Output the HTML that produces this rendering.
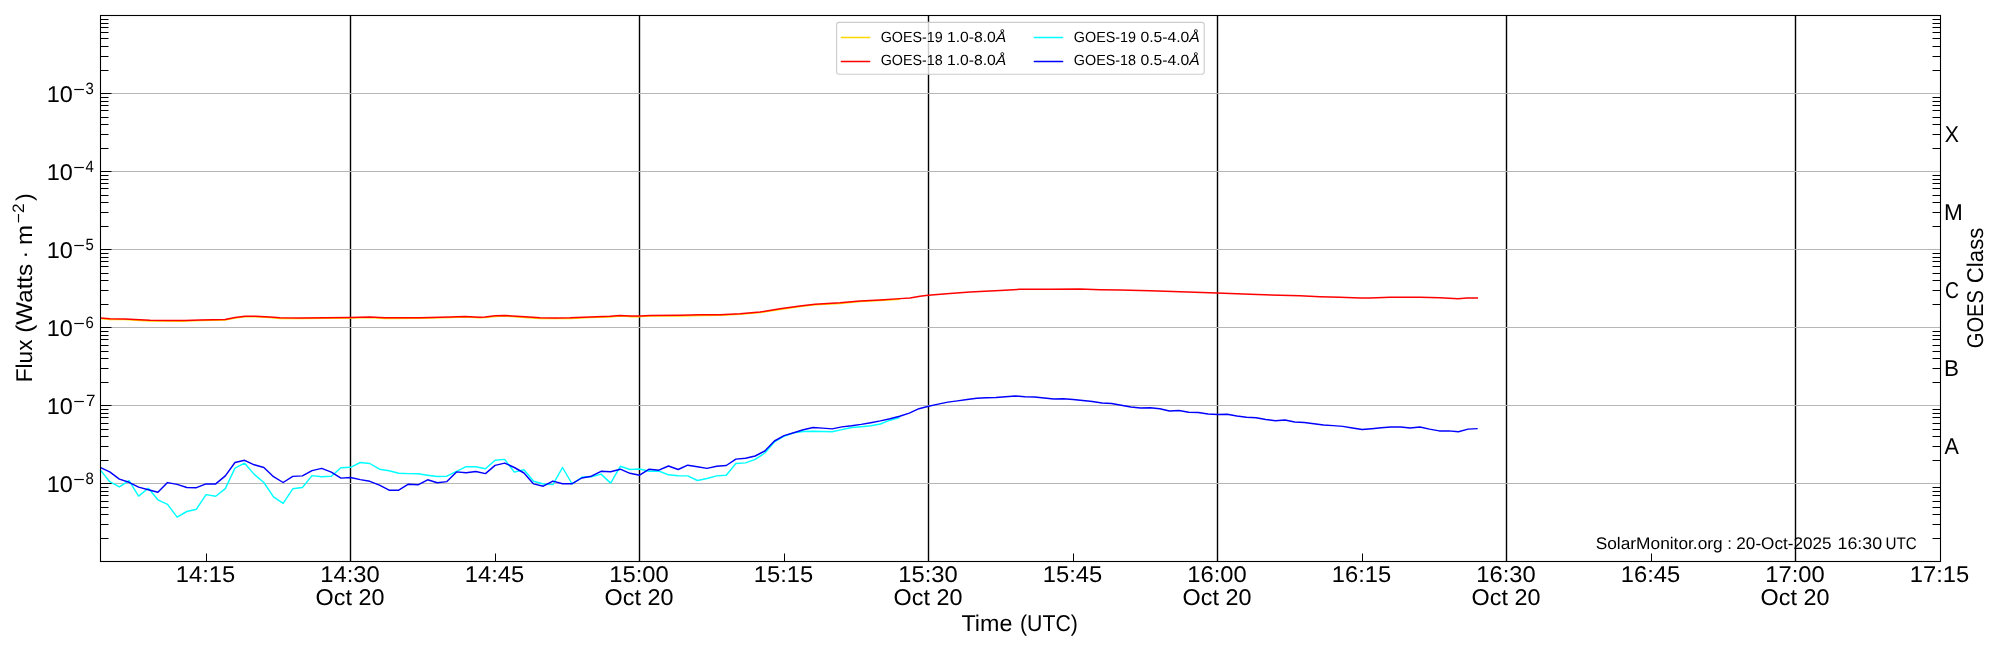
<!DOCTYPE html><html><head><meta charset="utf-8"><style>html,body{margin:0;padding:0;background:#fff;width:2000px;height:650px;overflow:hidden}svg{display:block;will-change:transform}text{font-family:"Liberation Sans",sans-serif;fill:#000;text-rendering:geometricPrecision}</style></head><body>
<svg width="2000" height="650" viewBox="0 0 2000 650">
<rect id="bg" width="2000" height="650" fill="#fff"/>
<line x1="350.50" y1="15.50" x2="350.50" y2="561.50" stroke="#000" stroke-width="1.4"/>
<line x1="639.50" y1="15.50" x2="639.50" y2="561.50" stroke="#000" stroke-width="1.4"/>
<line x1="928.50" y1="15.50" x2="928.50" y2="561.50" stroke="#000" stroke-width="1.4"/>
<line x1="1217.50" y1="15.50" x2="1217.50" y2="561.50" stroke="#000" stroke-width="1.4"/>
<line x1="1506.50" y1="15.50" x2="1506.50" y2="561.50" stroke="#000" stroke-width="1.4"/>
<line x1="1795.50" y1="15.50" x2="1795.50" y2="561.50" stroke="#000" stroke-width="1.4"/>
<line x1="100.50" y1="93.50" x2="1940.50" y2="93.50" stroke="#b6b6b6" stroke-width="1.05"/>
<line x1="100.50" y1="171.50" x2="1940.50" y2="171.50" stroke="#b6b6b6" stroke-width="1.05"/>
<line x1="100.50" y1="249.50" x2="1940.50" y2="249.50" stroke="#b6b6b6" stroke-width="1.05"/>
<line x1="100.50" y1="327.50" x2="1940.50" y2="327.50" stroke="#b6b6b6" stroke-width="1.05"/>
<line x1="100.50" y1="405.50" x2="1940.50" y2="405.50" stroke="#b6b6b6" stroke-width="1.05"/>
<line x1="100.50" y1="483.50" x2="1940.50" y2="483.50" stroke="#b6b6b6" stroke-width="1.05"/>
<polyline fill="none" stroke="#ffd700" stroke-width="1.45" stroke-linejoin="round" points="100.50,318.65 110.00,319.45 125.00,319.65 140.00,320.45 150.00,320.95 165.00,321.15 185.00,321.15 200.00,320.65 225.00,320.15 235.00,318.15 245.00,316.85 255.00,316.85 270.00,317.65 280.00,318.45 300.00,318.65 350.00,318.15 370.00,317.65 385.00,318.45 420.00,318.35 450.00,317.65 465.00,317.15 480.00,317.85 485.00,317.65 495.00,316.45 505.00,316.15 525.00,317.45 540.00,318.45 555.00,318.65 570.00,318.45 590.00,317.65 610.00,316.95 620.00,316.15 630.00,316.65 640.00,316.65 650.00,316.15 680.00,315.95 700.00,315.45 720.00,315.35 740.00,314.35 760.00,312.65 780.00,309.45 800.00,306.65 815.00,304.85 840.00,303.45 860.00,301.65 880.00,300.65 900.00,299.25"/>
<polyline fill="none" stroke="#ff0000" stroke-width="1.45" stroke-linejoin="round" points="100.50,318.00 110.00,318.80 125.00,319.00 140.00,319.80 150.00,320.30 165.00,320.50 185.00,320.50 200.00,320.00 225.00,319.50 235.00,317.50 245.00,316.20 255.00,316.20 270.00,317.00 280.00,317.80 300.00,318.00 350.00,317.50 370.00,317.00 385.00,317.80 420.00,317.70 450.00,317.00 465.00,316.50 480.00,317.20 485.00,317.00 495.00,315.80 505.00,315.50 525.00,316.80 540.00,317.80 555.00,318.00 570.00,317.80 590.00,317.00 610.00,316.30 620.00,315.50 630.00,316.00 640.00,316.00 650.00,315.50 680.00,315.30 700.00,314.80 720.00,314.70 740.00,313.70 760.00,312.00 780.00,308.80 800.00,306.00 815.00,304.20 840.00,302.80 860.00,301.00 880.00,300.00 900.00,298.60 910.00,298.00 920.00,296.30 928.00,295.30 950.00,293.50 970.00,292.00 1000.00,290.50 1020.00,289.30 1050.00,289.20 1080.00,289.00 1100.00,289.70 1120.00,290.00 1150.00,290.80 1180.00,291.80 1217.00,293.00 1250.00,294.30 1280.00,295.20 1300.00,295.80 1320.00,296.70 1340.00,297.20 1360.00,298.00 1370.00,298.00 1390.00,297.30 1420.00,297.30 1440.00,297.80 1458.00,298.80 1467.00,298.00 1478.00,298.00"/>
<polyline fill="none" stroke="#00ffff" stroke-width="1.45" stroke-linejoin="round" points="100.10,469.60 109.73,481.70 119.37,486.90 129.00,480.60 138.63,496.10 148.27,488.30 157.90,499.80 167.53,504.40 177.17,517.10 186.80,511.50 196.44,509.20 206.07,494.60 215.70,496.30 225.34,488.60 234.97,468.10 244.60,463.20 254.24,474.40 263.87,482.50 273.50,496.90 283.14,503.30 292.77,488.80 302.40,487.50 312.04,475.60 321.67,476.70 331.30,476.20 340.94,467.70 350.57,467.30 360.20,462.50 369.84,463.50 379.47,469.20 389.11,470.80 398.74,473.30 408.37,473.60 418.01,473.80 427.64,475.20 437.27,476.50 446.91,476.20 456.54,471.30 466.17,466.60 475.81,466.70 485.44,468.70 495.07,460.30 504.71,459.40 514.34,472.10 523.97,469.80 533.61,481.30 543.24,484.00 552.87,484.60 562.51,467.50 572.14,484.00 581.77,477.30 591.41,476.70 601.04,474.10 610.68,483.10 620.31,466.30 629.94,469.50 639.58,469.00 649.21,471.30 658.84,471.00 668.48,474.80 678.11,475.80 687.74,475.90 697.38,480.50 707.01,478.50 716.64,475.90 726.28,475.20 735.91,463.50 745.54,462.90 755.18,459.40 764.81,453.00 774.45,442.00 784.08,436.20 793.71,432.90 803.35,431.50 812.98,431.30 822.61,431.50 832.25,431.80 841.88,429.60 851.51,427.50 861.15,426.70 870.78,425.80 880.41,424.00 890.05,420.20 899.68,417.50"/>
<polyline fill="none" stroke="#0000ff" stroke-width="1.45" stroke-linejoin="round" points="100.10,467.30 109.73,471.90 119.37,479.10 129.00,482.30 138.63,487.10 148.27,489.80 157.90,492.30 167.53,482.60 177.17,484.40 186.80,487.50 196.44,487.70 206.07,483.90 215.70,483.90 225.34,475.90 234.97,462.50 244.60,460.30 254.24,464.80 263.87,467.50 273.50,476.70 283.14,482.50 292.77,476.40 302.40,475.90 312.04,470.60 321.67,468.40 331.30,472.10 340.94,478.10 350.57,477.50 360.20,479.60 369.84,481.30 379.47,485.20 389.11,490.20 398.74,490.20 408.37,484.20 418.01,484.80 427.64,479.80 437.27,482.80 446.91,481.60 456.54,471.90 466.17,472.70 475.81,471.50 485.44,473.60 495.07,465.40 504.71,463.10 514.34,467.50 523.97,473.00 533.61,483.90 543.24,486.20 552.87,481.10 562.51,483.70 572.14,483.70 581.77,478.00 591.41,476.20 601.04,471.30 610.68,471.80 620.31,469.20 629.94,473.30 639.58,475.20 649.21,469.20 658.84,470.20 668.48,466.00 678.11,469.50 687.74,465.20 697.38,466.70 707.01,468.40 716.64,466.30 726.28,465.50 735.91,459.10 745.54,458.30 755.18,456.00 764.81,451.00 774.45,441.00 784.08,435.60 793.71,432.70 803.35,429.80 812.98,427.50 822.61,428.10 832.25,428.90 841.88,426.90 851.51,425.80 861.15,424.40 870.78,422.70 880.41,420.90 890.05,418.80 899.68,416.30 909.31,413.10 918.95,408.70 928.58,406.20 938.21,404.10 947.85,402.10 957.48,400.90 967.12,399.50 976.75,398.30 986.38,397.80 996.02,397.50 1005.65,396.70 1015.28,396.00 1024.92,396.80 1034.55,397.00 1044.18,398.00 1053.82,399.00 1063.45,398.80 1073.08,399.50 1082.72,400.50 1092.35,401.50 1101.98,403.00 1111.62,403.50 1121.25,405.30 1130.88,407.00 1140.52,408.00 1150.15,407.80 1159.78,408.80 1169.42,411.00 1179.05,410.50 1188.69,412.20 1198.32,412.50 1207.95,414.00 1217.59,414.50 1227.22,414.30 1236.85,416.00 1246.49,417.20 1256.12,417.80 1265.75,419.50 1275.39,420.70 1285.02,420.00 1294.65,422.00 1304.29,422.50 1313.92,423.80 1323.55,425.00 1333.19,425.60 1342.82,426.40 1352.45,428.00 1362.09,429.50 1371.72,428.70 1381.36,427.70 1390.99,427.00 1400.62,427.00 1410.26,428.00 1419.89,427.00 1429.52,429.10 1439.16,430.90 1448.79,430.90 1458.42,431.80 1468.06,429.10 1477.69,428.60"/>
<path d="M100.50 561.50H111.50M100.50 538.50H108.50M1940.50 538.50H1932.50M100.50 524.50H108.50M1940.50 524.50H1932.50M100.50 514.50H108.50M1940.50 514.50H1932.50M100.50 507.50H108.50M1940.50 507.50H1932.50M100.50 501.50H108.50M1940.50 501.50H1932.50M100.50 495.50H108.50M1940.50 495.50H1932.50M100.50 491.50H108.50M1940.50 491.50H1932.50M100.50 487.50H108.50M1940.50 487.50H1932.50M100.50 483.50H111.50M100.50 460.50H108.50M1940.50 460.50H1932.50M100.50 446.50H108.50M1940.50 446.50H1932.50M100.50 436.50H108.50M1940.50 436.50H1932.50M100.50 429.50H108.50M1940.50 429.50H1932.50M100.50 423.50H108.50M1940.50 423.50H1932.50M100.50 417.50H108.50M1940.50 417.50H1932.50M100.50 413.50H108.50M1940.50 413.50H1932.50M100.50 409.50H108.50M1940.50 409.50H1932.50M100.50 405.50H111.50M100.50 382.50H108.50M1940.50 382.50H1932.50M100.50 368.50H108.50M1940.50 368.50H1932.50M100.50 358.50H108.50M1940.50 358.50H1932.50M100.50 351.50H108.50M1940.50 351.50H1932.50M100.50 345.50H108.50M1940.50 345.50H1932.50M100.50 339.50H108.50M1940.50 339.50H1932.50M100.50 335.50H108.50M1940.50 335.50H1932.50M100.50 331.50H108.50M1940.50 331.50H1932.50M100.50 327.50H111.50M100.50 304.50H108.50M1940.50 304.50H1932.50M100.50 290.50H108.50M1940.50 290.50H1932.50M100.50 280.50H108.50M1940.50 280.50H1932.50M100.50 273.50H108.50M1940.50 273.50H1932.50M100.50 266.50H108.50M1940.50 266.50H1932.50M100.50 261.50H108.50M1940.50 261.50H1932.50M100.50 257.50H108.50M1940.50 257.50H1932.50M100.50 253.50H108.50M1940.50 253.50H1932.50M100.50 249.50H111.50M100.50 226.50H108.50M1940.50 226.50H1932.50M100.50 212.50H108.50M1940.50 212.50H1932.50M100.50 202.50H108.50M1940.50 202.50H1932.50M100.50 195.50H108.50M1940.50 195.50H1932.50M100.50 188.50H108.50M1940.50 188.50H1932.50M100.50 183.50H108.50M1940.50 183.50H1932.50M100.50 179.50H108.50M1940.50 179.50H1932.50M100.50 175.50H108.50M1940.50 175.50H1932.50M100.50 171.50H111.50M100.50 148.50H108.50M1940.50 148.50H1932.50M100.50 134.50H108.50M1940.50 134.50H1932.50M100.50 124.50H108.50M1940.50 124.50H1932.50M100.50 117.50H108.50M1940.50 117.50H1932.50M100.50 110.50H108.50M1940.50 110.50H1932.50M100.50 105.50H108.50M1940.50 105.50H1932.50M100.50 101.50H108.50M1940.50 101.50H1932.50M100.50 97.50H108.50M1940.50 97.50H1932.50M100.50 93.50H111.50M100.50 70.50H108.50M1940.50 70.50H1932.50M100.50 56.50H108.50M1940.50 56.50H1932.50M100.50 46.50H108.50M1940.50 46.50H1932.50M100.50 38.50H108.50M1940.50 38.50H1932.50M100.50 32.50H108.50M1940.50 32.50H1932.50M100.50 27.50H108.50M1940.50 27.50H1932.50M100.50 23.50H108.50M1940.50 23.50H1932.50M100.50 19.50H108.50M1940.50 19.50H1932.50M100.50 15.50H111.50M206.50 561.50V553.50M350.50 561.50V553.50M495.50 561.50V553.50M639.50 561.50V553.50M784.50 561.50V553.50M928.50 561.50V553.50M1073.50 561.50V553.50M1217.50 561.50V553.50M1362.50 561.50V553.50M1506.50 561.50V553.50M1651.50 561.50V553.50M1795.50 561.50V553.50M1940.50 561.50V553.50" stroke="#000" stroke-width="1.0" fill="none"/>
<rect x="100.50" y="15.50" width="1840.00" height="546.00" fill="none" stroke="#000" stroke-width="1.1"/>
<rect x="836.6" y="22.4" width="367.6" height="51.8" rx="2.5" ry="2.5" fill="#fff" fill-opacity="0.8" stroke="#cccccc" stroke-width="1.1"/>
<line x1="841.40" y1="37.50" x2="869.70" y2="37.50" stroke="#ffd700" stroke-width="1.39" stroke-linecap="round"/>
<line x1="841.40" y1="61.50" x2="869.70" y2="61.50" stroke="#ff0000" stroke-width="1.39" stroke-linecap="round"/>
<line x1="1034.30" y1="37.50" x2="1062.60" y2="37.50" stroke="#00ffff" stroke-width="1.39" stroke-linecap="round"/>
<line x1="1034.30" y1="61.50" x2="1062.60" y2="61.50" stroke="#0000ff" stroke-width="1.39" stroke-linecap="round"/>
<text x="205.50" y="582.00" id="xt0" font-size="22.80" text-anchor="middle" textLength="59.39" lengthAdjust="spacingAndGlyphs">14:15</text>
<text x="350.00" y="582.00" id="xt1" font-size="22.80" text-anchor="middle" textLength="59.39" lengthAdjust="spacingAndGlyphs">14:30</text>
<text x="350.00" y="605.20" id="xd1" font-size="22.80" text-anchor="middle" textLength="68.83" lengthAdjust="spacingAndGlyphs">Oct 20</text>
<text x="494.50" y="582.00" id="xt2" font-size="22.80" text-anchor="middle" textLength="59.39" lengthAdjust="spacingAndGlyphs">14:45</text>
<text x="639.00" y="582.00" id="xt3" font-size="22.80" text-anchor="middle" textLength="59.39" lengthAdjust="spacingAndGlyphs">15:00</text>
<text x="639.00" y="605.20" id="xd3" font-size="22.80" text-anchor="middle" textLength="68.83" lengthAdjust="spacingAndGlyphs">Oct 20</text>
<text x="783.50" y="582.00" id="xt4" font-size="22.80" text-anchor="middle" textLength="59.39" lengthAdjust="spacingAndGlyphs">15:15</text>
<text x="928.00" y="582.00" id="xt5" font-size="22.80" text-anchor="middle" textLength="59.39" lengthAdjust="spacingAndGlyphs">15:30</text>
<text x="928.00" y="605.20" id="xd5" font-size="22.80" text-anchor="middle" textLength="68.83" lengthAdjust="spacingAndGlyphs">Oct 20</text>
<text x="1072.50" y="582.00" id="xt6" font-size="22.80" text-anchor="middle" textLength="59.39" lengthAdjust="spacingAndGlyphs">15:45</text>
<text x="1217.00" y="582.00" id="xt7" font-size="22.80" text-anchor="middle" textLength="59.39" lengthAdjust="spacingAndGlyphs">16:00</text>
<text x="1217.00" y="605.20" id="xd7" font-size="22.80" text-anchor="middle" textLength="68.83" lengthAdjust="spacingAndGlyphs">Oct 20</text>
<text x="1361.50" y="582.00" id="xt8" font-size="22.80" text-anchor="middle" textLength="59.39" lengthAdjust="spacingAndGlyphs">16:15</text>
<text x="1506.00" y="582.00" id="xt9" font-size="22.80" text-anchor="middle" textLength="59.39" lengthAdjust="spacingAndGlyphs">16:30</text>
<text x="1506.00" y="605.20" id="xd9" font-size="22.80" text-anchor="middle" textLength="68.83" lengthAdjust="spacingAndGlyphs">Oct 20</text>
<text x="1650.50" y="582.00" id="xt10" font-size="22.80" text-anchor="middle" textLength="59.39" lengthAdjust="spacingAndGlyphs">16:45</text>
<text x="1795.00" y="582.00" id="xt11" font-size="22.80" text-anchor="middle" textLength="59.39" lengthAdjust="spacingAndGlyphs">17:00</text>
<text x="1795.00" y="605.20" id="xd11" font-size="22.80" text-anchor="middle" textLength="68.83" lengthAdjust="spacingAndGlyphs">Oct 20</text>
<text x="1939.50" y="582.00" id="xt12" font-size="22.80" text-anchor="middle" textLength="59.39" lengthAdjust="spacingAndGlyphs">17:15</text>
<text x="46.80" y="101.60" id="yt1" font-size="22.80" textLength="26.09" lengthAdjust="spacingAndGlyphs">10</text>
<text x="73.30" y="94.90" id="ym1" font-size="16.50" textLength="11.62" lengthAdjust="spacingAndGlyphs">−</text>
<text x="85.60" y="93.50" id="ye1" font-size="16.50" textLength="8.32" lengthAdjust="spacingAndGlyphs">3</text>
<text x="46.80" y="179.60" id="yt2" font-size="22.80" textLength="26.09" lengthAdjust="spacingAndGlyphs">10</text>
<text x="73.30" y="172.90" id="ym2" font-size="16.50" textLength="11.62" lengthAdjust="spacingAndGlyphs">−</text>
<text x="85.60" y="171.50" id="ye2" font-size="16.50" textLength="8.31" lengthAdjust="spacingAndGlyphs">4</text>
<text x="46.80" y="257.60" id="yt3" font-size="22.80" textLength="26.09" lengthAdjust="spacingAndGlyphs">10</text>
<text x="73.30" y="250.90" id="ym3" font-size="16.50" textLength="11.62" lengthAdjust="spacingAndGlyphs">−</text>
<text x="85.60" y="249.50" id="ye3" font-size="16.50" textLength="8.31" lengthAdjust="spacingAndGlyphs">5</text>
<text x="46.80" y="335.60" id="yt4" font-size="22.80" textLength="26.09" lengthAdjust="spacingAndGlyphs">10</text>
<text x="73.30" y="328.90" id="ym4" font-size="16.50" textLength="11.62" lengthAdjust="spacingAndGlyphs">−</text>
<text x="85.60" y="327.50" id="ye4" font-size="16.50" textLength="8.32" lengthAdjust="spacingAndGlyphs">6</text>
<text x="46.80" y="413.60" id="yt5" font-size="22.80" textLength="26.09" lengthAdjust="spacingAndGlyphs">10</text>
<text x="73.30" y="406.90" id="ym5" font-size="16.50" textLength="11.62" lengthAdjust="spacingAndGlyphs">−</text>
<text x="86.10" y="405.50" id="ye5" font-size="16.50" textLength="9.51" lengthAdjust="spacingAndGlyphs">7</text>
<text x="46.80" y="491.60" id="yt6" font-size="22.80" textLength="26.09" lengthAdjust="spacingAndGlyphs">10</text>
<text x="73.30" y="484.90" id="ym6" font-size="16.50" textLength="11.62" lengthAdjust="spacingAndGlyphs">−</text>
<text x="85.60" y="483.50" id="ye6" font-size="16.50" textLength="8.32" lengthAdjust="spacingAndGlyphs">8</text>
<text x="1944.60" y="453.78" id="clA" font-size="22.80" textLength="14.37" lengthAdjust="spacingAndGlyphs">A</text>
<text x="1944.10" y="375.78" id="clB" font-size="22.80" textLength="15.01" lengthAdjust="spacingAndGlyphs">B</text>
<text x="1945.10" y="297.78" id="clC" font-size="22.80" textLength="14.01" lengthAdjust="spacingAndGlyphs">C</text>
<text x="1944.10" y="219.78" id="clM" font-size="22.80" textLength="18.78" lengthAdjust="spacingAndGlyphs">M</text>
<text x="1944.70" y="141.78" id="clX" font-size="22.80" textLength="14.18" lengthAdjust="spacingAndGlyphs">X</text>
<text x="961.50" y="631.00" id="xlab1" font-size="22.80" textLength="50.87" lengthAdjust="spacingAndGlyphs">Time</text>
<text x="1020.00" y="631.00" id="xlab2" font-size="22.80" textLength="57.84" lengthAdjust="spacingAndGlyphs">(UTC)</text>
<text x="0" y="0" id="ylab1" font-size="22.80" textLength="42.67" lengthAdjust="spacingAndGlyphs" transform="translate(32.30,382.20) rotate(-90)">Flux</text>
<text x="0" y="0" id="ylab1b" font-size="22.80" textLength="68.82" lengthAdjust="spacingAndGlyphs" transform="translate(32.30,332.70) rotate(-90)">(Watts</text>
<text x="0" y="0" id="ylab1c" font-size="22.80" transform="translate(32.30,258.50) rotate(-90)">·</text>
<text x="0" y="0" id="ylab1d" font-size="22.80" textLength="20.04" lengthAdjust="spacingAndGlyphs" transform="translate(32.30,245.10) rotate(-90)">m</text>
<text x="0" y="0" id="ylab2" font-size="16.50" textLength="19.70" lengthAdjust="spacingAndGlyphs" transform="translate(24.30,223.20) rotate(-90)">−2</text>
<text x="0" y="0" id="ylab3" font-size="22.80" transform="translate(32.30,201.00) rotate(-90)">)</text>
<text x="0" y="0" id="y2lab" font-size="22.80" textLength="58.15" lengthAdjust="spacingAndGlyphs" transform="translate(1983.20,348.20) rotate(-90)">GOES</text>
<text x="0" y="0" id="y2labb" font-size="22.80" textLength="55.59" lengthAdjust="spacingAndGlyphs" transform="translate(1983.20,283.20) rotate(-90)">Class</text>
<text x="1595.70" y="549.00" id="sm1" font-size="16.80" textLength="126.99" lengthAdjust="spacingAndGlyphs">SolarMonitor.org</text>
<text x="1727.20" y="549.00" id="sm2" font-size="16.80">:</text>
<text x="1736.35" y="549.00" id="sm3" font-size="16.80" textLength="95.23" lengthAdjust="spacingAndGlyphs">20-Oct-2025</text>
<text x="1837.50" y="549.00" id="sm4" font-size="16.80" textLength="44.64" lengthAdjust="spacingAndGlyphs">16:30</text>
<text x="1885.50" y="549.00" id="sm5" font-size="16.80" textLength="31.27" lengthAdjust="spacingAndGlyphs">UTC</text>
<text x="880.70" y="41.80" id="lg1a" font-size="14.70" textLength="62.02" lengthAdjust="spacingAndGlyphs">GOES-19</text>
<text x="946.90" y="41.80" id="lg1b" font-size="14.70" textLength="59.46" lengthAdjust="spacingAndGlyphs">1.0-8.0<tspan font-style="italic">Å</tspan></text>
<text x="880.70" y="64.90" id="lg2a" font-size="14.70" textLength="62.02" lengthAdjust="spacingAndGlyphs">GOES-18</text>
<text x="946.90" y="64.90" id="lg2b" font-size="14.70" textLength="59.46" lengthAdjust="spacingAndGlyphs">1.0-8.0<tspan font-style="italic">Å</tspan></text>
<text x="1073.80" y="41.80" id="lg3a" font-size="14.70" textLength="62.24" lengthAdjust="spacingAndGlyphs">GOES-19</text>
<text x="1140.40" y="41.80" id="lg3b" font-size="14.70" textLength="59.47" lengthAdjust="spacingAndGlyphs">0.5-4.0<tspan font-style="italic">Å</tspan></text>
<text x="1073.80" y="64.90" id="lg4a" font-size="14.70" textLength="62.24" lengthAdjust="spacingAndGlyphs">GOES-18</text>
<text x="1140.40" y="64.90" id="lg4b" font-size="14.70" textLength="59.47" lengthAdjust="spacingAndGlyphs">0.5-4.0<tspan font-style="italic">Å</tspan></text>
</svg></body></html>
